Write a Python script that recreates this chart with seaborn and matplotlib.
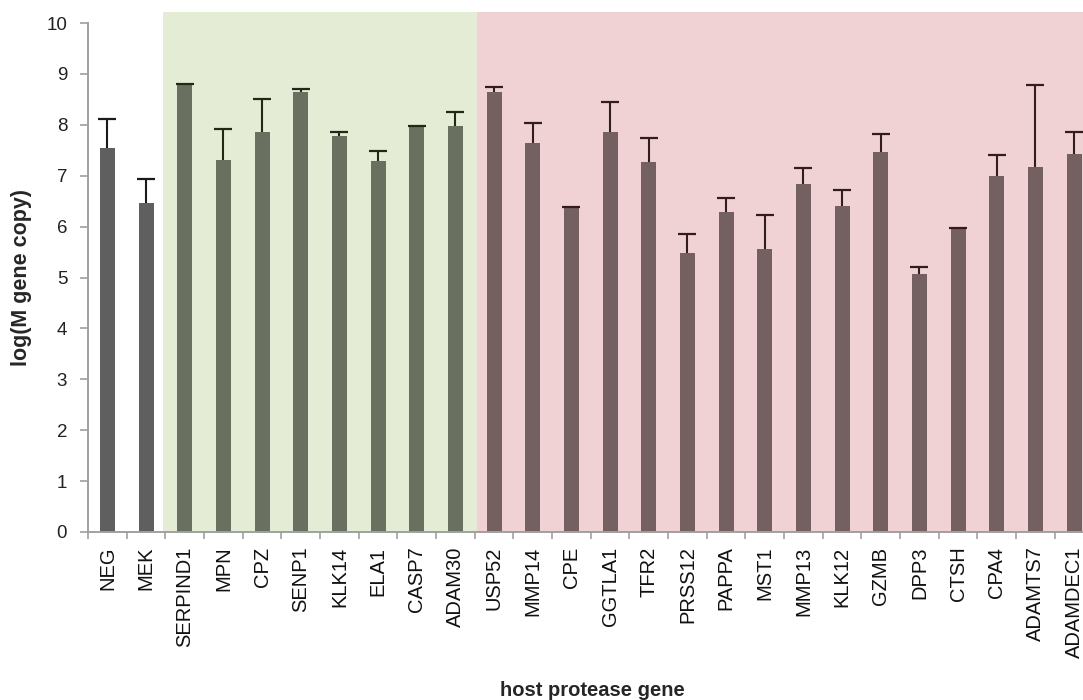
import numpy as np
import pandas as pd
import matplotlib
matplotlib.use("Agg")
import matplotlib.pyplot as plt
import seaborn as sns

genes = ["NEG", "MEK", "SERPIND1", "MPN", "CPZ", "SENP1", "KLK14", "ELA1", "CASP7", "ADAM30",
         "USP52", "MMP14", "CPE", "GGTLA1", "TFR2", "PRSS12", "PAPPA", "MST1", "MMP13", "KLK12",
         "GZMB", "DPP3", "CTSH", "CPA4", "ADAMTS7", "ADAMDEC1"]
groups = ["control"] * 2 + ["low"] * 8 + ["high"] * 16
log_copy = [7.55, 6.46, 8.78, 7.31, 7.85, 8.65, 7.78, 7.29, 7.95, 7.98,
            8.64, 7.64, 6.36, 7.85, 7.26, 5.49, 6.28, 5.57, 6.83, 6.41,
            7.46, 5.06, 5.97, 7.00, 7.18, 7.43]
err_up = [0.57, 0.48, 0.02, 0.60, 0.65, 0.05, 0.08, 0.20, 0.02, 0.27,
          0.11, 0.39, 0.03, 0.60, 0.48, 0.36, 0.28, 0.65, 0.32, 0.31,
          0.35, 0.15, 0.01, 0.40, 1.60, 0.43]

bar_colors = {"control": "#5f5f5f", "low": "#6b735d", "high": "#785b5e"}
err_colors = {"control": "#1a1a1a", "low": "#1f2a16", "high": "#331c1e"}

df = pd.DataFrame({"gene": genes, "group": groups, "value": log_copy, "err": err_up})

sns.set_theme(style="white")
plt.rcParams['font.family'] = ['Liberation Sans', 'DejaVu Sans']

fig = plt.figure(figsize=(10.83, 7.0), dpi=100)
ax = fig.add_axes([0.0813, 0.24, 0.9283, 0.7271])

# shaded background blocks
ax.axvspan(1.45, 9.55, ymin=0, ymax=1.022, color="#e5ecd6", zorder=0, clip_on=False, lw=0)
ax.axvspan(9.55, 26.5, ymin=0, ymax=1.022, color="#f0d2d4", zorder=0, clip_on=False, lw=0)

sns.barplot(data=df, x="gene", y="value", hue="group", palette=bar_colors,
            dodge=False, width=0.39, errorbar=None, legend=False, ax=ax, zorder=2,
            edgecolor="none")

# upper-only error bars
for i, row in df.iterrows():
    _, caps, _ = ax.errorbar(i, row["value"], yerr=[[0], [row["err"]]], fmt="none",
                             ecolor=err_colors[row["group"]], elinewidth=1.5, capsize=6.5,
                             capthick=1.6, zorder=3)
    caps[0].set_visible(False)

ax.set_xlim(-0.5, 25.5)
ax.set_ylim(0, 10)
ax.set_yticks(range(0, 11))
ax.set_facecolor("none")

sns.despine(ax=ax)
for s in ["left", "bottom"]:
    ax.spines[s].set_color("#a0a0a0")
    ax.spines[s].set_linewidth(1.4)
    ax.spines[s].set_zorder(4)

ax.tick_params(axis="y", direction="out", length=6, width=1.2, color="#a0a0a0",
               labelsize=13.5, labelcolor="#222222", pad=9, left=True)
ax.set_xticks(np.arange(-0.5, 26, 1), minor=True)
ax.tick_params(axis="x", which="minor", direction="out", length=5, width=1.2,
               color="#a0a0a0", bottom=True)
ax.tick_params(axis="x", which="major", length=0, labelsize=14.5,
               labelcolor="#111111", pad=10.5)
plt.setp(ax.get_xticklabels(), rotation=90, ha="center", va="top")

ax.set_xlabel("host protease gene", fontsize=14.5, fontweight="bold")
ax.set_ylabel("log(M gene copy)", fontsize=15.5, fontweight="bold")
ax.xaxis.set_label_coords(0.5015, -0.292)
ax.yaxis.set_label_coords(-0.0557, 0.5)

fig.savefig("out.png", dpi=100)
